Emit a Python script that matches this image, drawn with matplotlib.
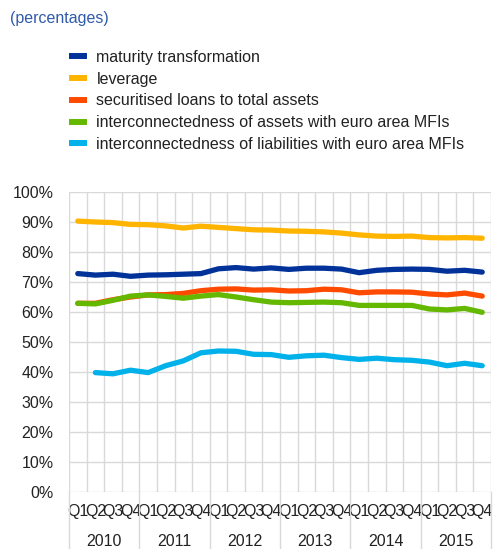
import matplotlib.pyplot as plt
from matplotlib.lines import Line2D
from matplotlib.ticker import FixedLocator, FuncFormatter

plt.rcParams['font.family'] = ['Liberation Sans', 'DejaVu Sans']

YEARS = ['2010', '2011', '2012', '2013', '2014', '2015']
QUARTERS = ['Q1', 'Q2', 'Q3', 'Q4']

maturity = [72.8, 72.3, 72.6, 71.9, 72.3, 72.4, 72.6, 72.8, 74.4, 74.8, 74.3, 74.7,
            74.2, 74.6, 74.6, 74.3, 73.1, 73.9, 74.2, 74.3, 74.2, 73.6, 73.9, 73.3]
leverage = [90.3, 90.0, 89.8, 89.2, 89.1, 88.7, 88.0, 88.6, 88.2, 87.8, 87.4, 87.3,
            87.0, 86.9, 86.7, 86.3, 85.7, 85.3, 85.2, 85.3, 84.8, 84.7, 84.8, 84.6]
securitised = [62.9, 62.9, 64.1, 65.0, 65.7, 65.8, 66.2, 67.1, 67.6, 67.7, 67.3, 67.4,
               67.0, 67.1, 67.6, 67.4, 66.4, 66.7, 66.7, 66.6, 66.0, 65.7, 66.3, 65.3]
inter_assets = [62.9, 62.7, 63.9, 65.3, 65.7, 65.2, 64.6, 65.3, 65.8, 65.0, 64.1, 63.3,
                63.1, 63.2, 63.3, 63.1, 62.2, 62.2, 62.2, 62.2, 61.0, 60.7, 61.2, 59.9]
# no value for 2010 Q1
inter_liab = [None, 39.8, 39.4, 40.6, 39.8, 42.1, 43.7, 46.4, 47.0, 46.9, 45.9, 45.8,
              44.9, 45.4, 45.6, 44.8, 44.2, 44.6, 44.1, 43.9, 43.3, 42.1, 42.9, 42.1]

SERIES = [
    ('maturity transformation', maturity, '#003299'),
    ('leverage', leverage, '#FFB400'),
    ('securitised loans to total assets', securitised, '#FF4B00'),
    ('interconnectedness of assets with euro area MFIs', inter_assets, '#65B800'),
    ('interconnectedness of liabilities with euro area MFIs', inter_liab, '#00B1EA'),
]

GRID = '#D9D9D9'
TEXT = '#222222'
FS = 11.5

fig = plt.figure(figsize=(4.95, 5.49), dpi=100)
ax = fig.add_axes([69 / 495, 57 / 549, 422 / 495, 300 / 549])

n = len(YEARS) * len(QUARTERS)
xs = [i + 0.5 for i in range(n)]
handles = []
for name, values, color in SERIES:
    pts = [(x, v) for x, v in zip(xs, values) if v is not None]
    ax.plot([p[0] for p in pts], [p[1] for p in pts], color=color, lw=3.8,
            solid_capstyle='round', solid_joinstyle='round', zorder=3)
    handles.append(Line2D([], [], color=color, lw=4.3, solid_capstyle='butt'))

ax.set_xlim(0, n)
ax.set_ylim(0, 100)
for s in ax.spines.values():
    s.set_visible(False)

ax.set_yticks(range(0, 101, 10))
ax.yaxis.set_major_formatter(FuncFormatter(lambda v, _: f'{v:.0f}%'))
ax.tick_params(axis='y', length=0, pad=11, labelsize=FS, labelcolor=TEXT)

ax.xaxis.set_major_locator(FixedLocator(range(n + 1)))
ax.xaxis.set_minor_locator(FixedLocator(xs))
ax.set_xticklabels([])
ax.set_xticklabels(QUARTERS * len(YEARS), minor=True)
ax.tick_params(axis='x', which='both', length=0, labelsize=FS, labelcolor=TEXT)
ax.tick_params(axis='x', which='minor', pad=8.5)
ax.grid(True, which='major', color=GRID, lw=1.0, zorder=0)

# year separators below the axis and year labels
for k in range(len(YEARS) + 1):
    ax.axvline(k * 4, ymin=-0.19, ymax=0, color=GRID, lw=1.0, clip_on=False)
for k, year in enumerate(YEARS):
    ax.text(k * 4 + 2, -0.165, year, transform=ax.get_xaxis_transform(),
            ha='center', va='center', fontsize=FS, color=TEXT)

fig.text(10 / 495, 1 - 18 / 549, '(percentages)', color='#2F5BAA',
         fontsize=FS, ha='left', va='center')

fig.legend(handles, [s[0] for s in SERIES], loc='upper left',
           bbox_to_anchor=(69 / 495, 1 - 50 / 549), frameon=False,
           fontsize=FS, labelcolor=TEXT, handlelength=1.1, handletextpad=0.62,
           labelspacing=0.42, borderpad=0, borderaxespad=0)

fig.savefig('out.png', dpi=100)
